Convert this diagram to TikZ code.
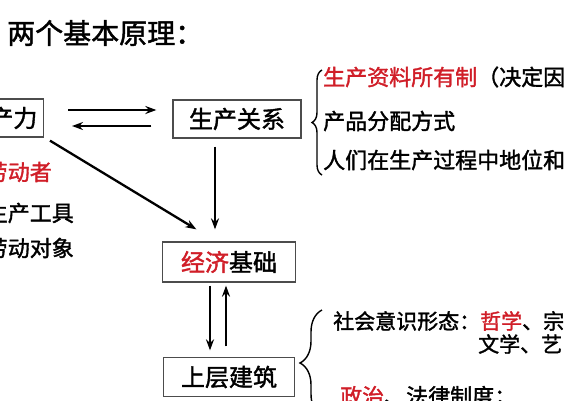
\documentclass[tikz,border=0pt]{standalone}
\usepackage{fontspec}
\setmainfont{Noto Sans CJK SC}[AutoFakeBold=1.6]
\usetikzlibrary{arrows.meta,decorations.pathreplacing}
\definecolor{keyred}{RGB}{208,30,40}
\begin{document}
\begin{tikzpicture}[x=1pt,y=-1pt,
  every node/.style={font=\fontsize{22}{24}\selectfont\bfseries,inner sep=0pt},
  box/.style={draw=black!70,line width=1.3pt,minimum height=38pt,font=\fontsize{24}{26}\selectfont\bfseries},
  arr/.style={line width=2.3pt,-{Stealth[length=11pt,width=8pt]}},
  curly/.style={line width=1.4pt,decorate,decoration={brace,amplitude=#1}}]
  \useasboundingbox (0,0) rectangle (567,400);
  \clip (0,0) rectangle (567,400);
  \node[anchor=west,font=\fontsize{28}{30}\selectfont\bfseries] (title) at (7,33) {两个基本原理：};
  % the four boxes
  \node[box,anchor=east,inner xsep=6pt] (pf) at (44,118) {生产力};
  \node[box,minimum width=128pt] (pr) at (237,119) {生产关系};
  \node[box,minimum width=133pt,minimum height=40pt] (eb) at (229,262) {\textcolor{keyred}{经济}基础};
  \node[box,minimum width=131pt,minimum height=39pt] (sb) at (229,377) {上层建筑};
  \draw[arr] ([xshift=24pt,yshift=8pt]pf.east) -- ([xshift=-16pt,yshift=9pt]pr.west);
  \draw[arr] ([xshift=-21pt,yshift=-7pt]pr.west) -- ([xshift=28pt,yshift=-8pt]pf.east);
  \draw[arr] ([xshift=6pt,yshift=-3pt]pf.south east) -- ([xshift=34.5pt,yshift=12pt]eb.north west);
  \draw[arr] ([xshift=-22pt,yshift=-8pt]pr.south) -- ([xshift=-14pt,yshift=12pt]eb.north);
  \draw[arr] ([xshift=-19pt,yshift=-3pt]eb.south) -- ([xshift=-19pt,yshift=6.5pt]sb.north);
  \draw[arr] ([xshift=-3pt,yshift=10.5pt]sb.north) -- ([xshift=-3pt,yshift=-3pt]eb.south);
  % left list
  \node[anchor=east,text=keyred] (worker) at (52,172) {劳动者};
  \node[anchor=east] (tool) at (74,213) {生产工具};
  \node[anchor=east] (object) at (74,248) {劳动对象};
  % relations of production
  \draw[curly=10pt] (322,175) -- (322,70);
  \node[anchor=west] (own) at (323,77) {\textcolor{keyred}{生产资料所有制}（决定因};
  \node[anchor=west] (dist) at (323,121) {产品分配方式};
  \node[anchor=west] (status) at (323,160) {人们在生产过程中地位和};
  % superstructure
  \draw[curly=22pt] (322,416) -- (322,310);
  \node[anchor=west,font=\fontsize{21}{22}\selectfont\bfseries] (ideo) at (333,321) {社会意识形态：\textcolor{keyred}{哲学}、宗};
  \node[anchor=west,font=\fontsize{21}{22}\selectfont\bfseries] (arts) at (478,344) {文学、艺};
  \node[anchor=west] (law) at (340,397) {\textcolor{keyred}{政治}、法律制度；};
\end{tikzpicture}
\end{document}
